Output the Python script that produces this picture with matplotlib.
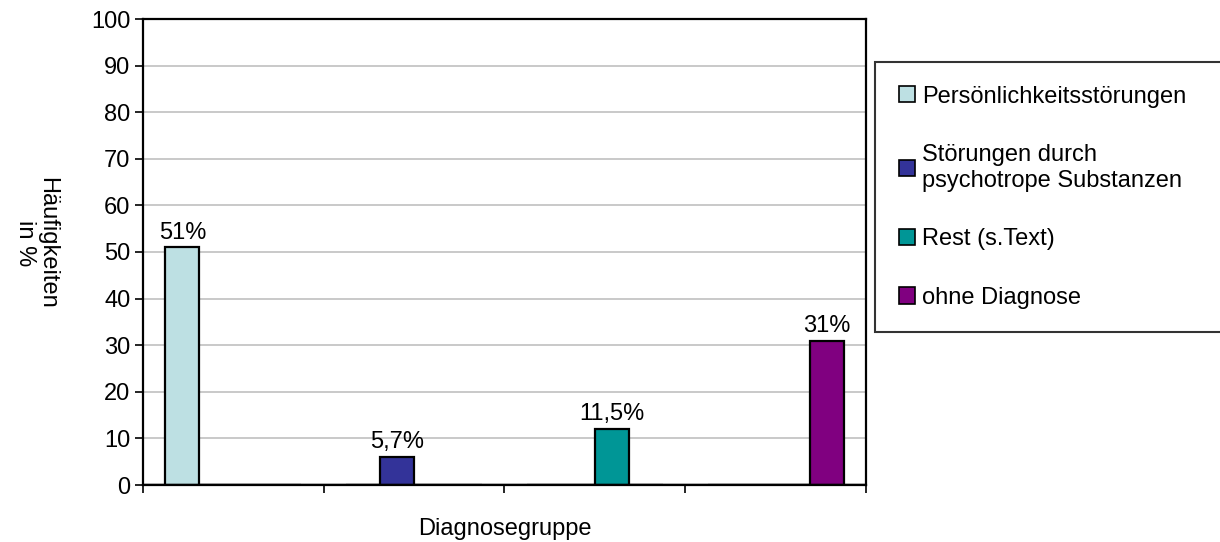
import matplotlib
matplotlib.use('Agg')
import matplotlib.pyplot as plt
import numpy as np

plt.rcParams['font.family'] = ['Liberation Sans', 'DejaVu Sans']

# Data
categories = ['', '', '', '']
series_names = ['Persönlichkeitsstörungen',
                'Störungen durch\npsychotrope Substanzen',
                'Rest (s.Text)',
                'ohne Diagnose']
series_values = [
    [51, 0, 0, 0],
    [0, 6, 0, 0],
    [0, 0, 12, 0],
    [0, 0, 0, 31],
]
value_labels = ['51%', '5,7%', '11,5%', '31%']
colors = ['#BDE0E3', '#333399', '#009696', '#800080']

fs = 17

fig = plt.figure(figsize=(12.2, 5.42), dpi=100)
ax = fig.add_axes([143/1220, 1-485/542, 723/1220, 466/542])

x = np.arange(len(categories))
w = 0.188
for i, vals in enumerate(series_values):
    ax.bar(x + (i - 1.5)*w, vals, w, color=colors[i], edgecolor='black',
           linewidth=1.6, label=series_names[i], zorder=3)
    # label only the non-zero bar
    j = int(np.argmax(vals))
    ax.text(x[j] + (i - 1.5)*w, vals[j] + 0.8, value_labels[i],
            ha='center', va='bottom', fontsize=fs)

ax.axhline(0, color='black', linewidth=2.5, zorder=4)

ax.set_xlim(-0.5, 3.5)
ax.set_ylim(0, 100)
ax.set_yticks(np.arange(0, 101, 10))
ax.set_xticks(np.arange(-0.5, 3.6, 1))
ax.set_xticklabels([])
ax.tick_params(axis='y', labelsize=fs, length=6, width=1.2, pad=3)
ax.tick_params(axis='x', length=6, width=1.2)
ax.grid(axis='y', color='#C0C0C0', linewidth=1.2, zorder=0)
for s in ax.spines.values():
    s.set_linewidth(1.6)

ax.set_xlabel('Diagnosegruppe', fontsize=fs)
ax.xaxis.set_label_coords(0.5, -0.071)
ax.set_ylabel('Häufigkeiten\nin %', fontsize=fs, rotation=-90,
              va='center', ha='center', linespacing=1.0)
ax.yaxis.set_label_coords(-0.148, 0.52)

leg = ax.legend(loc='upper left', bbox_to_anchor=(875/1220, 1-62/542, 0.3, 0.0),
                bbox_transform=fig.transFigure, mode='expand', fontsize=fs,
                frameon=True, fancybox=False, edgecolor='black',
                handlelength=0.68, handleheight=0.68, handletextpad=0.3,
                labelspacing=1.55, borderpad=1.0, borderaxespad=0)
leg.get_frame().set_linewidth(1.5)
for h in leg.legend_handles:
    h.set_linewidth(1.2)

fig.savefig('out.png', dpi=100)
